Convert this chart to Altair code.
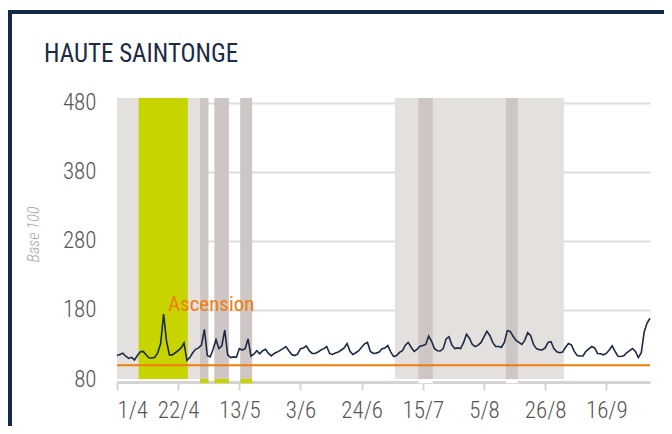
import altair as alt
import pandas as pd

# ---------------- data ----------------
title_text = ["HAUTE SAINTONGE"]
y_title = "Base 100"
start_date = "2021-04-01"

# daily index (base 100), 1 April -> 1 October
values = [
    114, 115.5, 117.5, 113, 110, 111.4, 107.6, 114, 119.5, 120,
    115, 110.5, 110.5, 111.4, 118, 131.7, 174, 135, 115, 115,
    118, 121, 125, 132, 107, 111, 118, 123, 125, 129,
    152, 114, 112, 123, 137, 124, 128, 151, 115, 111,
    112, 111.5, 124, 122, 124, 138, 113, 116, 121, 116.5,
    121, 123, 117, 113.5, 117, 119, 121.5, 124, 127, 121,
    115.5, 114, 116, 124, 125, 128, 121, 117, 117, 119,
    122, 124, 127, 117, 115.5, 117.5, 119, 122, 125, 131.5,
    120, 115.5, 118, 121, 126, 131, 133, 120, 117, 117.5,
    119, 124, 125, 128.5, 119, 112.5, 114, 118.5, 121, 129,
    133, 126, 120, 123, 127.5, 128.5, 130, 142, 135, 124,
    121, 120.5, 124, 138, 141, 129, 124, 125, 124, 133,
    145, 139, 130, 127, 129, 133, 141, 149, 143, 133,
    127, 127, 126, 133, 150, 149, 142, 136, 133, 130,
    136, 147, 143, 130, 124, 122.5, 122, 125, 133, 134,
    124, 119.5, 118, 119, 126, 131.5, 129.5, 120, 114, 113.4,
    113.4, 120, 123.5, 127, 125, 117, 116.5, 115, 117, 122,
    128, 120, 113, 112.5, 113.5, 118, 121, 124, 120, 111,
    118, 148, 161, 168,
]

# holiday periods (light grey)
light_start = ["2021-04-01T00:00", "2021-07-05T11:00"]
light_end = ["2021-04-29T12:00", "2021-09-01T10:00"]
# local holiday period (yellow-green)
yellow_start = ["2021-04-08T10:00"]
yellow_end = ["2021-04-25T07:00"]
# bank holidays / bridges (dark grey)
dark_start = ["2021-04-29T12:00", "2021-05-04T10:00", "2021-05-13T07:00",
              "2021-07-13T11:00", "2021-08-12T13:00"]
dark_end = ["2021-05-02T10:00", "2021-05-09T10:00", "2021-05-17T10:00",
            "2021-07-18T10:00", "2021-08-16T14:00"]
dark_cap = ["#c8d400", "#c8d400", "#c8d400", "#ffffff", "#ffffff"]

annot_text = ["Ascension"]
annot_date = ["2021-04-18T12:00"]
annot_value = [178]

y_ticks = [80, 180, 280, 380, 480]
y_top = 487
base_value = 100
cap_bottom = 74
x_ticks = [(4, 1), (4, 22), (5, 13), (6, 3), (6, 24), (7, 15), (8, 5), (8, 26), (9, 16)]

# ---------------- tables ----------------
line_df = pd.DataFrame({
    "date": pd.date_range(start_date, periods=len(values), freq="D"),
    "value": values,
})
light_df = pd.DataFrame({"start": light_start, "end": light_end})
yellow_df = pd.DataFrame({"start": yellow_start, "end": yellow_end})
dark_df = pd.DataFrame({"start": dark_start, "end": dark_end, "cap": dark_cap})
annot_df = pd.DataFrame({"date": annot_date, "value": annot_value, "label": annot_text})
title_df = pd.DataFrame({"t": title_text})

# ---------------- scales / axes ----------------
x_scale = alt.Scale(domain=[alt.DateTime(year=2021, month=4, date=1),
                            alt.DateTime(year=2021, month=10, date=1)])
y_scale = alt.Scale(domain=[80, y_top], nice=False, zero=False)

x_axis = alt.Axis(
    values=[alt.DateTime(year=2021, month=m, date=d) for m, d in x_ticks],
    format="%-d/%-m", title=None, grid=False,
)
y_axis = alt.Axis(
    values=y_ticks, title=y_title, grid=True,
    gridOpacity={"condition": {"test": "datum.value === 80", "value": 0}, "value": 1},
)

X = lambda f: alt.X(f, type="temporal", scale=x_scale, axis=x_axis)
Yd = lambda v: alt.Y(datum=v, type="quantitative", scale=y_scale, axis=y_axis)

NAVY = "#1b2b47"
ORANGE = "#ef7d0b"
COND = "Roboto Condensed, Liberation Sans Narrow, DejaVu Sans Condensed, Roboto, sans-serif"

frame = alt.Chart(title_df).mark_rect(
    fillOpacity=0, stroke="#15294a", strokeWidth=4
).encode(x=alt.value(-107), x2=alt.value(700), y=alt.value(-86), y2=alt.value(520))

light = alt.Chart(light_df).mark_rect(color="#e3e0de").encode(
    x=X("start"), x2="end", y=Yd(y_top), y2=alt.Y2(datum=80))
yellow = alt.Chart(yellow_df).mark_rect(color="#c8d400").encode(
    x=X("start"), x2="end", y=Yd(y_top), y2=alt.Y2(datum=80))
dark = alt.Chart(dark_df).mark_rect(color="#cec6c4").encode(
    x=X("start"), x2="end", y=Yd(y_top), y2=alt.Y2(datum=80))
caps = alt.Chart(dark_df).mark_rect().encode(
    x=X("start"), x2="end", y=Yd(80), y2=alt.Y2(datum=cap_bottom),
    color=alt.Color("cap:N", scale=None))

base_rule = alt.Chart(title_df).mark_rule(color=ORANGE, strokeWidth=2).encode(
    y=Yd(base_value))

line = alt.Chart(line_df).mark_line(color=NAVY, strokeWidth=1.6).encode(
    x=X("date"), y=alt.Y("value:Q", scale=y_scale, axis=y_axis))

annot = alt.Chart(annot_df).mark_text(
    align="left", baseline="alphabetic", fontSize=21, color=ORANGE, font=COND,
).encode(x=X("date"), y=alt.Y("value:Q", scale=y_scale, axis=y_axis), text="label:N")

title = alt.Chart(title_df).mark_text(
    align="left", baseline="alphabetic", fontSize=25, color=NAVY, font=COND,
).encode(x=alt.value(-73), y=alt.value(-36), text="t:N")

chart = alt.layer(
    frame, light, yellow, dark, caps, base_rule, line, annot, title
).properties(
    width=533, height=281,
    padding={"left": 109, "top": 90, "right": 14, "bottom": 47},
    autosize=alt.AutoSizeParams(type="none"),
    background="white",
).configure_view(
    stroke=None
).configure_axisX(
    domainColor="#d6d3d1", domainWidth=3, offset=3,
    tickColor="#d6d3d1", tickWidth=2, tickSize=8,
    labelFont=COND, labelFontSize=23, labelFontWeight=300, labelColor="#555555",
    labelPadding=9,
).configure_axisY(
    domain=False, ticks=False, gridColor="#dddddd", gridWidth=2,
    labelFont=COND, labelFontSize=23, labelFontWeight=300, labelColor="#555555",
    labelPadding=21,
    titleFont=COND, titleFontSize=16, titleFontStyle="italic",
    titleFontWeight=300, titleColor="#a8a8a8",
    titleX=-76, titleY=136, titleAngle=-90,
)

chart.save("out.html", embed_options={"renderer": "svg", "actions": False})
